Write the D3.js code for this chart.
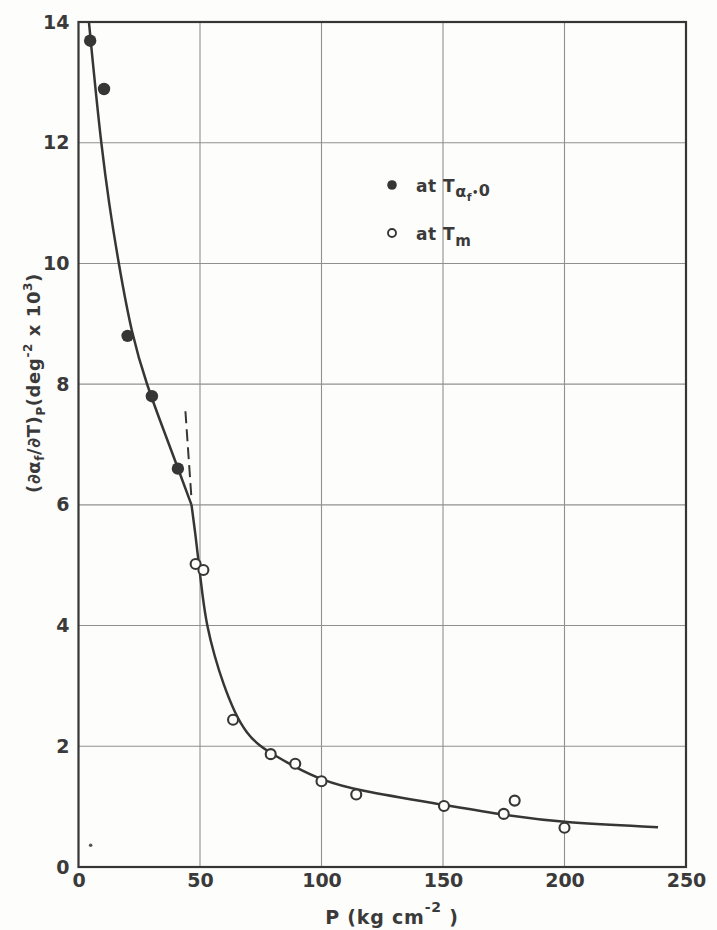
<!DOCTYPE html>
<html>
<head>
<meta charset="utf-8">
<script src="https://cdn.jsdelivr.net/npm/d3@7"></script>
<style>
  html, body { margin: 0; padding: 0; background: #fdfdfb; }
  svg { display: block; }
  text { font-family: "DejaVu Sans", sans-serif; fill: #3a3a3a; font-weight: bold; }
</style>
</head>
<body>
<svg id="chart" width="717" height="930"></svg>
<script>
// ---- data ----
const xTicks = [0, 50, 100, 150, 200, 250];
const yTicks = [0, 2, 4, 6, 8, 10, 12, 14];

// filled points: at T(alpha_f = 0)
const filledP = [4.8, 10.5, 20.2, 30.2, 40.9];
const filledV = [13.69, 12.89, 8.8, 7.8, 6.6];

// open points: at Tm
const openP = [48.2, 51.4, 63.6, 79.1, 89.2, 100, 114.3, 150.4, 175, 179.5, 200];
const openV = [5.02, 4.92, 2.44, 1.87, 1.71, 1.42, 1.2, 1.01, 0.88, 1.1, 0.65];

// fitted curve, upper branch (above the break) and lower branch
const upperP = [4.3, 5.6, 7.0, 9.3, 12.5, 16.5, 22.0, 28.0, 35.0, 41.0, 46.5];
const upperV = [14.0, 13.45, 12.89, 12.0, 11.0, 10.0, 8.8, 8.0, 7.24, 6.6, 6.0];
const lowerP = [46.5, 48.0, 49.3, 51.0, 52.8, 56.0, 59.5, 64.3, 69.1, 74.6, 80.7, 88, 100, 114.3, 150.4, 175, 200, 238.5];
const lowerV = [6.0, 5.55, 5.1, 4.5, 4.0, 3.49, 3.04, 2.55, 2.22, 2.0, 1.85, 1.68, 1.44, 1.27, 1.03, 0.86, 0.73, 0.66];

// dashed extrapolation near the break
const dashP = [44, 46.5];
const dashV = [7.55, 6.1];

// stray speck near origin
const speckP = [5];
const speckV = [0.36];

// ---- drawing ----
(function () {
const svg = d3.select("#chart");
const ink = "#363636";
const mL = 78.5, mR = 686, mT = 22, mB = 867;

const x = d3.scaleLinear().domain([0, 250]).range([mL, mR]);
const y = d3.scaleLinear().domain([0, 14]).range([mB, mT]);

// grid
const grid = svg.append("g");
grid.selectAll("line.v").data(xTicks.slice(1, -1)).join("line")
  .attr("x1", d => x(d)).attr("x2", d => x(d))
  .attr("y1", mT).attr("y2", mB)
  .attr("stroke", "#909090").attr("stroke-width", 1.1);
grid.selectAll("line.h").data(yTicks.slice(1, -1)).join("line")
  .attr("y1", d => y(d)).attr("y2", d => y(d))
  .attr("x1", mL).attr("x2", mR)
  .attr("stroke", "#909090").attr("stroke-width", 1.1);

// frame
svg.append("rect")
  .attr("x", mL).attr("y", mT)
  .attr("width", mR - mL).attr("height", mB - mT)
  .attr("fill", "none").attr("stroke", ink).attr("stroke-width", 2.2);

// axes (labels only)
const xAxis = svg.append("g").attr("transform", `translate(0,${mB})`)
  .call(d3.axisBottom(x).tickValues(xTicks).tickSize(0).tickPadding(7).tickFormat(d3.format("d")));
xAxis.select(".domain").remove();
xAxis.selectAll("text").attr("font-size", 19).attr("fill", "#3a3a3a")
  .style("font-family", "DejaVu Sans, sans-serif").style("font-weight", "bold");

const yAxis = svg.append("g").attr("transform", `translate(${mL},0)`)
  .call(d3.axisLeft(y).tickValues(yTicks).tickSize(0).tickPadding(9).tickFormat(d3.format("d")));
yAxis.select(".domain").remove();
yAxis.selectAll("text").attr("font-size", 19).attr("fill", "#3a3a3a")
  .style("font-family", "DejaVu Sans, sans-serif").style("font-weight", "bold");

// curve
const line = d3.line().x(d => x(d[0])).y(d => y(d[1])).curve(d3.curveBasis);
svg.append("path").datum(d3.zip(upperP, upperV)).attr("d", line)
  .attr("fill", "none").attr("stroke", ink).attr("stroke-width", 2.5);
svg.append("path").datum(d3.zip(lowerP, lowerV)).attr("d", line)
  .attr("fill", "none").attr("stroke", ink).attr("stroke-width", 2.5);
svg.append("path").datum(d3.zip(dashP, dashV)).attr("d", d3.line().x(d => x(d[0])).y(d => y(d[1])))
  .attr("fill", "none").attr("stroke", ink).attr("stroke-width", 2)
  .attr("stroke-dasharray", "12,6");

// points
svg.append("g").selectAll("circle").data(d3.zip(filledP, filledV)).join("circle")
  .attr("cx", d => x(d[0])).attr("cy", d => y(d[1])).attr("r", 6.2)
  .attr("fill", ink);
svg.append("g").selectAll("circle").data(d3.zip(openP, openV)).join("circle")
  .attr("cx", d => x(d[0])).attr("cy", d => y(d[1])).attr("r", 5)
  .attr("fill", "#fdfdfb").attr("stroke", ink).attr("stroke-width", 2.1);
svg.append("g").selectAll("circle").data(d3.zip(speckP, speckV)).join("circle")
  .attr("cx", d => x(d[0])).attr("cy", d => y(d[1])).attr("r", 1.8)
  .attr("fill", "#555");

// legend
const lg = svg.append("g");
lg.append("circle").attr("cx", 392).attr("cy", 185).attr("r", 4.8).attr("fill", ink);
const t1 = lg.append("text").attr("x", 416).attr("y", 192).attr("font-size", 17).attr("letter-spacing", 0.5);
t1.append("tspan").text("at T");
t1.append("tspan").attr("dy", 5).attr("font-size", 16).text("α");
t1.append("tspan").attr("dy", 4).attr("font-size", 11).text("f");
t1.append("tspan").attr("dy", -5).attr("font-size", 10).text("•");
t1.append("tspan").attr("dy", 0).attr("font-size", 16).text("0");
lg.append("circle").attr("cx", 392).attr("cy", 233).attr("r", 4)
  .attr("fill", "none").attr("stroke", ink).attr("stroke-width", 1.9);
const t2 = lg.append("text").attr("x", 416).attr("y", 240).attr("font-size", 17).attr("letter-spacing", 0.5);
t2.append("tspan").text("at T");
t2.append("tspan").attr("dy", 6).attr("font-size", 15).text("m");

// x axis title
const xt = svg.append("text").attr("x", 392).attr("y", 924).attr("text-anchor", "middle")
  .attr("font-size", 19).attr("letter-spacing", 0.8);
xt.append("tspan").text("P (kg cm");
xt.append("tspan").attr("dy", -12).attr("font-size", 14).text("-2");
xt.append("tspan").attr("dy", 12).text(" )");

// y axis title
const yt = svg.append("text").attr("transform", "translate(40,383) rotate(-90)")
  .attr("text-anchor", "middle").attr("font-size", 18).attr("letter-spacing", 0.6);
yt.append("tspan").text("(∂α");
yt.append("tspan").attr("dy", 4).attr("font-size", 12).text("f");
yt.append("tspan").attr("dy", -4).text("/∂T)");
yt.append("tspan").attr("dy", 5).attr("font-size", 12).text("P");
yt.append("tspan").attr("dy", -5).text("(deg");
yt.append("tspan").attr("dy", -8).attr("font-size", 12).text("-2");
yt.append("tspan").attr("dy", 8).text(" x 10");
yt.append("tspan").attr("dy", -8).attr("font-size", 12).text("3");
yt.append("tspan").attr("dy", 8).text(")");
})();
</script>
</body>
</html>
